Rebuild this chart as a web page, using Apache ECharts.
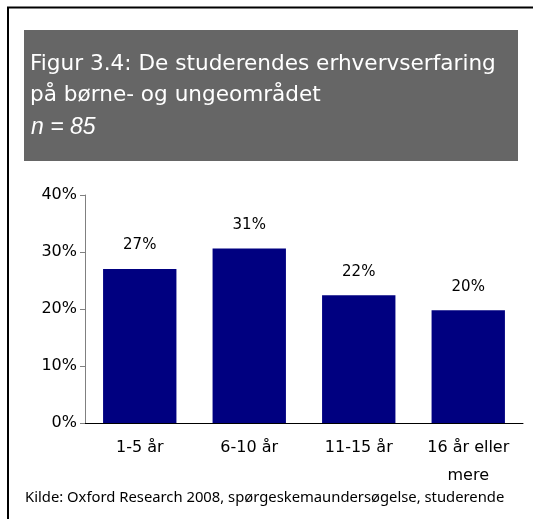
<!DOCTYPE html>
<html>
<head>
<meta charset="utf-8">
<script src="https://cdn.jsdelivr.net/npm/echarts@6/dist/echarts.min.js"></script>
<style>
  html, body { margin: 0; padding: 0; background: #fff; }
  #chart { width: 533px; height: 519px; }
</style>
</head>
<body>
<div id="chart"></div>
<script>
// categories and values
const categories = ['1-5 år', '6-10 år', '11-15 år', '16 år eller\nmere']
const shares = [27.0, 30.6, 22.4, 19.8]
const yTicks = [0, 10, 20, 30, 40]

const titleLines = ['Figur 3.4: De studerendes erhvervserfaring', 'på børne- og ungeområdet']
const subtitle = 'n = 85'
const source = 'Kilde: Oxford Research 2008, spørgeskemaundersøgelse, studerende'

const chart = echarts.init(document.getElementById('chart'))

const option = {
  animation: false,
  backgroundColor: '#fff',
  graphic: [
    // frame, only left and top sides are visible
    {
      type: 'polyline',
      shape: { points: [[8, 519], [8, 7.5], [533, 7.5]] },
      style: { stroke: '#000', lineWidth: 2, fill: null }
    },
    {
      type: 'rect',
      shape: { x: 24, y: 30, width: 494, height: 131 },
      style: { fill: '#666666' }
    },
    {
      type: 'text',
      left: 30, top: 49,
      style: {
        text: titleLines.join('\n'),
        fill: '#fff',
        font: '21.6px "DejaVu Sans"',
        lineHeight: 31
      }
    },
    {
      type: 'text',
      left: 31, top: 116,
      style: {
        text: subtitle,
        fill: '#fff',
        font: 'italic 23px "Liberation Sans"'
      }
    },
    {
      type: 'text',
      left: 25, top: 490,
      style: {
        text: source,
        fill: '#000',
        font: '14.8px "Noto Sans"'
      }
    }
  ],
  grid: {
    left: 85,
    right: 10,
    top: 195,
    bottom: 96
  },
  xAxis: {
    type: 'category',
    data: categories,
    axisLine: { lineStyle: { color: '#000', width: 1 } },
    axisTick: { show: false },
    axisLabel: {
      color: '#000',
      fontFamily: 'DejaVu Sans',
      fontSize: 16,
      lineHeight: 28,
      margin: 11,
      interval: 0
    }
  },
  yAxis: {
    type: 'value',
    min: yTicks[0],
    max: yTicks[yTicks.length - 1],
    interval: 10,
    axisLine: { show: true, lineStyle: { color: '#808080' } },
    axisTick: { show: true, length: 5, lineStyle: { color: '#808080' } },
    splitLine: { show: false },
    axisLabel: {
      color: '#000',
      fontFamily: 'DejaVu Sans',
      fontSize: 16,
      margin: 8,
      formatter: '{value}%'
    }
  },
  series: [
    {
      type: 'bar',
      data: shares,
      barCategoryGap: '33%',
      itemStyle: { color: '#000080' },
      label: {
        show: true,
        position: 'top',
        distance: 16,
        color: '#000',
        fontFamily: 'DejaVu Sans',
        fontSize: 15,
        formatter: p => Math.round(p.value) + '%'
      }
    }
  ]
}

chart.setOption(option)
</script>
</body>
</html>
